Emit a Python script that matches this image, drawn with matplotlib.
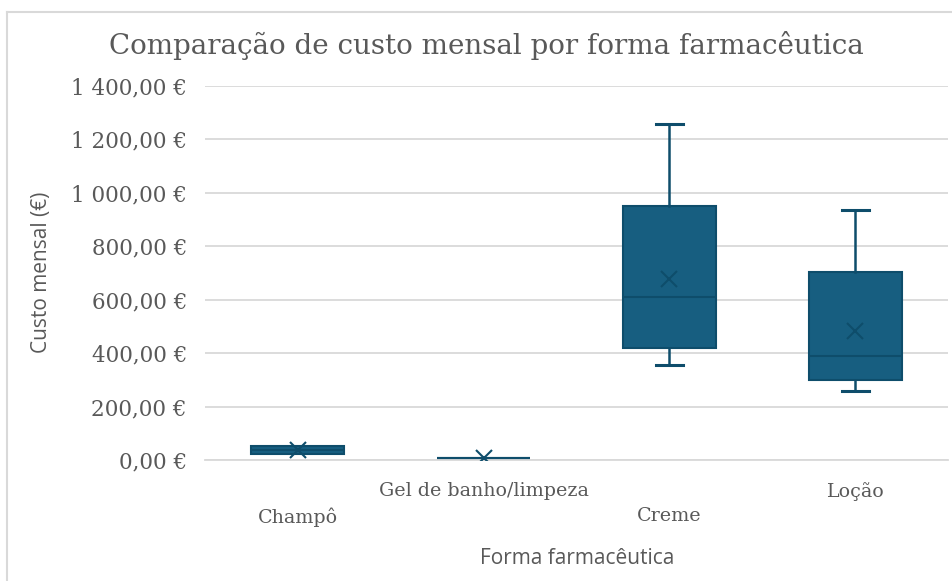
import matplotlib
matplotlib.use('Agg')
import matplotlib.pyplot as plt
from matplotlib.ticker import FuncFormatter
from matplotlib.lines import Line2D

## Data
categories = ['Champô', 'Gel de banho/limpeza', 'Creme', 'Loção']
whis_low = [22, 6, 354, 259]
q1_vals = [22, 6, 419, 300]
medians = [36, 7, 611, 390]
q3_vals = [54, 8, 950, 703]
whis_high = [54, 8, 1257, 937]
means = [38, 9, 676, 484]
yticks = [0, 200, 400, 600, 800, 1000, 1200, 1400]

fill_c = '#175e80'
edge_c = '#0e4d6b'
text_c = '#595959'
grid_c = '#d9d9d9'

def euro_fmt(v, pos):
    s = '{:,.2f}'.format(v).replace(',', ' ').replace('.', ',')
    return s + ' €'

fig = plt.figure(figsize=(9.52, 5.81), dpi=100)
ax = fig.add_axes([205/952, 1-460/581, (948-205)/952, (460-86)/581])

stats = []
for i, cat in enumerate(categories):
    stats.append(dict(label=cat, whislo=whis_low[i], q1=q1_vals[i], med=medians[i],
                      q3=q3_vals[i], whishi=whis_high[i], mean=means[i], fliers=[]))

bp = ax.bxp(stats, positions=range(len(categories)), widths=0.5, patch_artist=True,
            showmeans=True, showfliers=False, zorder=3,
            boxprops=dict(facecolor=fill_c, edgecolor=edge_c, linewidth=1.5),
            medianprops=dict(color=edge_c, linewidth=1.5),
            whiskerprops=dict(color=edge_c, linewidth=1.8),
            capprops=dict(color=edge_c, linewidth=2.2),
            capwidths=0.145,
            meanprops=dict(marker='x', markersize=12, markeredgecolor=edge_c, markeredgewidth=1.5))

# hide caps that sit on the box edge (no whisker)
for i in range(len(categories)):
    if whis_low[i] == q1_vals[i]:
        bp['caps'][2*i].set_visible(False)
    if whis_high[i] == q3_vals[i]:
        bp['caps'][2*i+1].set_visible(False)

ax.set_xlim(-0.5, len(categories)-0.5)
ax.set_ylim(0, 1400)
ax.set_yticks(yticks)
ax.yaxis.set_major_formatter(FuncFormatter(euro_fmt))
ax.yaxis.grid(True, color=grid_c, linewidth=1.3, zorder=0)
ax.set_axisbelow(True)
for s in ['top', 'right', 'left']:
    ax.spines[s].set_visible(False)
ax.spines['bottom'].set_color(grid_c)
ax.spines['bottom'].set_linewidth(1.3)
ax.tick_params(axis='both', length=0)
ax.tick_params(axis='y', pad=13)

for lab in ax.get_yticklabels():
    lab.set_fontfamily('DejaVu Serif')
    lab.set_fontsize(15.5)
    lab.set_color(text_c)

ax.set_xticks(range(len(categories)))
ax.set_xticklabels(categories, fontfamily='DejaVu Serif', fontsize=13.7, color=text_c)
for i, t in enumerate(ax.xaxis.get_major_ticks()):
    t.set_pad(34 if i % 2 == 0 else 16)

fig.text(486/952, 1-45/581, 'Comparação de custo mensal por forma farmacêutica',
         ha='center', va='center', fontsize=20, color=text_c, fontfamily='DejaVu Serif')
fig.text(42/952, 1-272/581, 'Custo mensal (€)', rotation=90, ha='center', va='center',
         fontsize=15, color=text_c, fontfamily='Open Sans')
fig.text(577/952, 1-558/581, 'Forma farmacêutica', ha='center', va='center',
         fontsize=15, color=text_c, fontfamily='Open Sans')

# chart border (top and left visible)
fig.add_artist(Line2D([7/952, 7/952], [0, 1-12/581], color=grid_c, linewidth=1.5))
fig.add_artist(Line2D([7/952, 1], [1-12/581, 1-12/581], color=grid_c, linewidth=1.5))

fig.savefig('out.png', dpi=100)
